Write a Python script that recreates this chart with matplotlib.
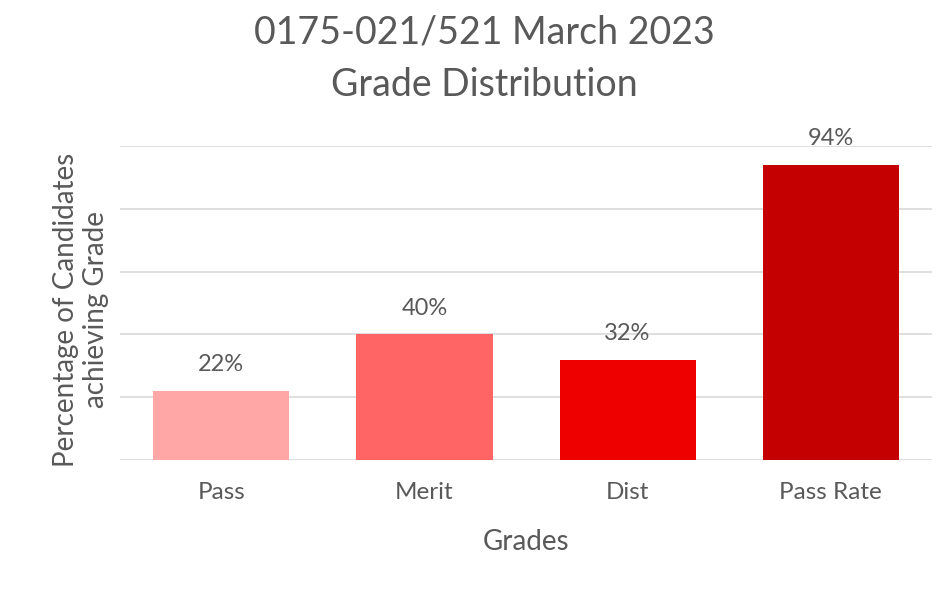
import numpy as np
import matplotlib
matplotlib.use('Agg')
import matplotlib.pyplot as plt

plt.rcParams['font.family'] = ['Lato', 'DejaVu Sans']

grades = ['Pass', 'Merit', 'Dist', 'Pass Rate']
percent = [22, 40, 32, 94]
colours = ['#ffa7a7', '#ff6565', '#ee0000', '#c40000']
grey = '#595959'

fig = plt.figure(figsize=(9.36, 5.94), dpi=100)
ax = fig.add_axes([0.128, 0.2256, 0.868, 0.5286])

x = np.arange(len(grades))
ax.bar(x, percent, width=0.67, color=colours, zorder=2)
for xi, p in zip(x, percent):
    ax.text(xi, p + 5, f'{p}%', ha='center', va='bottom', fontsize=17, color=grey)

ax.set_xlim(-0.5, len(grades) - 0.5)
ax.set_ylim(0, 100)
ax.set_yticks(np.arange(0, 101, 20))
ax.set_yticklabels([])
ax.tick_params(axis='y', length=0)
ax.tick_params(axis='x', length=0, labelsize=17.5, labelcolor=grey, pad=16)
ax.set_xticks(x)
ax.set_xticklabels(grades)
ax.grid(axis='y', color='#d9d9d9', linewidth=1.2, zorder=0)
for s in ax.spines.values():
    s.set_visible(False)

fig.text(526 / 936, 1 - 542 / 594, 'Grades', ha='center', va='center',
         fontsize=20, color=grey)
fig.text(81 / 936, 1 - 310 / 594, 'Percentage of Candidates\nachieving Grade',
         rotation=90, ha='center', va='center', fontsize=20, color=grey,
         linespacing=1.15, multialignment='center')

fig.text(0.517, 0.946, '0175-021/521 March 2023', ha='center', va='center',
         fontsize=27, color=grey)
fig.text(0.517, 0.857, 'Grade Distribution', ha='center', va='center',
         fontsize=27, color=grey)

fig.savefig('out.png', dpi=100)
